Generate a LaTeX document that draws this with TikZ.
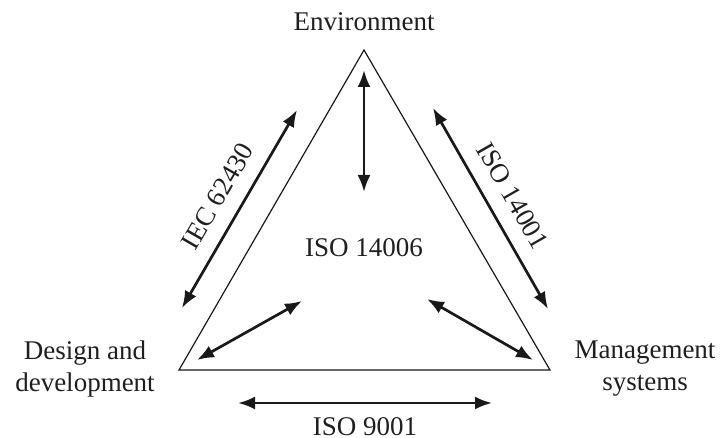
\documentclass[tikz,border=0pt]{standalone}
\usepackage{fontspec}
\setmainfont{Liberation Serif}
\usetikzlibrary{arrows.meta}
\tikzset{
  txt/.style={font=\fontsize{27}{32}\selectfont, align=center, inner sep=2pt, text=black!88},
  link/.style={line width=2.7pt, black!90, {Latex[length=17pt,width=13pt]}-{Latex[length=17pt,width=13pt]}},
}
\begin{document}
\begin{tikzpicture}[x=1pt,y=-1pt]
  \useasboundingbox (0,0) rectangle (723,438);
  \coordinate (top) at (364,50);
  \coordinate (left) at (179,370);
  \coordinate (right) at (550,370);
  \draw[line width=1.2pt, black!90] (top) -- (left) -- (right) -- cycle;
  \node[txt] (env) at (364,22) {Environment};
  \node[txt] (dd) at (85,369) {Design and\\development};
  \node[txt] (ms) at (645,369) {Management\\systems};
  \node[txt] (core) at (364,248) {ISO 14006};
  \coordinate (v1) at (364,70);
  \coordinate (v2) at (364,192);
  \draw[link] (v1) -- (v2);
  \coordinate (l1) at (182,308);
  \coordinate (l2) at (297,110);
  \draw[link] (l1) -- node[txt,sloped,above=13pt] (iec) {IEC 62430} (l2);
  \coordinate (r1) at (433,108);
  \coordinate (r2) at (548,309);
  \draw[link] (r1) -- node[txt,sloped,above=13pt] (iso1) {ISO 14001} (r2);
  \coordinate (b1) at (238,403);
  \coordinate (b2) at (492,403);
  \draw[link] (b1) -- node[txt,below=11pt] (iso9) {ISO 9001} (b2);
  \coordinate (il1) at (197,360);
  \coordinate (il2) at (302,301);
  \draw[link] (il1) -- (il2);
  \coordinate (ir1) at (427,299);
  \coordinate (ir2) at (533,360);
  \draw[link] (ir1) -- (ir2);
\end{tikzpicture}
\end{document}
